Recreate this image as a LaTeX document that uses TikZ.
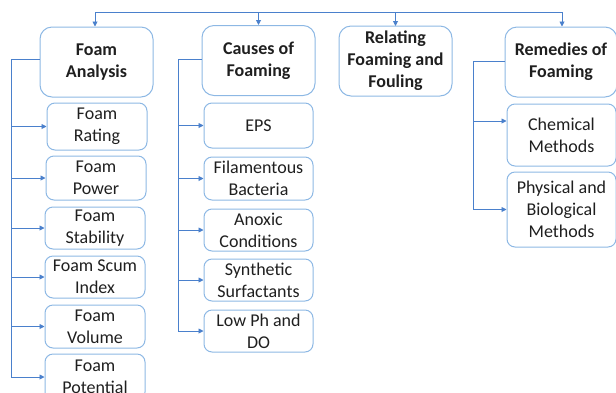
\documentclass[tikz,border=0pt]{standalone}
\usepackage{fontspec}
\setmainfont{Carlito}
\usetikzlibrary{positioning,arrows.meta}

\definecolor{linkblue}{HTML}{4A80CC}
\definecolor{boxblue}{HTML}{8DB8E4}

\tikzset{
  topbox/.style={draw=boxblue, line width=1pt, rounded corners=12pt, align=center,
    minimum width=113pt, minimum height=70pt, text=black!88,
    font=\fontsize{18}{22}\selectfont\bfseries},
  subbox/.style={draw=boxblue, line width=1pt, rounded corners=8pt, align=center,
    minimum width=100pt, inner sep=0pt, text=black!88,
    font=\fontsize{18}{22}\selectfont},
  link/.style={draw=linkblue, line width=0.9pt},
  linkarrow/.style={link, -{Triangle[length=5pt,width=5pt]}}
}

\begin{document}
\begin{tikzpicture}[x=1pt, y=-1pt]
    \useasboundingbox (0,0) rectangle (616,392);

    % Top level
    \node[topbox] (analysis) at (96.5,62) {Foam\\Analysis};
    \node[topbox] (causes) at (258.5,60.5) {Causes of\\Foaming};
    \node[topbox] (relating) at (395.5,61) {Relating\\Foaming and\\Fouling};
    \node[topbox, minimum width=112pt] (remedies) at (561,62) {Remedies of\\Foaming};

    % Bus from above
    \coordinate (bus-l) at (95,12);
    \coordinate (bus-r) at (562,12);
    \draw[link] (bus-l) -- (bus-r);
    \draw[linkarrow] (bus-l) -- (bus-l |- analysis.north);
    \draw[linkarrow] (causes.north |- bus-l) -- (causes.north);
    \draw[linkarrow] (relating.north |- bus-l) -- ++(0,14);
    \draw[linkarrow] (bus-r) -- (bus-r |- remedies.north);

    % Foam Analysis
    \node[subbox, minimum height=47pt] (rating) at (97,126.5) {Foam\\Rating};
    \node[subbox, minimum height=44pt] (power) at (96,178) {Foam\\Power};
    \node[subbox, minimum height=42pt] (stability) at (95,228) {Foam\\Stability};
    \node[subbox, minimum height=42pt] (scum) at (95,277) {Foam Scum\\Index};
    \node[subbox, minimum height=43pt] (volume) at (95,326.5) {Foam\\Volume};
    \node[subbox, minimum height=46pt] (potential) at (95,377) {Foam\\Potential};
    \coordinate (analysis-l) at (11,59);
    \draw[link] (analysis.west |- analysis-l) -- (analysis-l) -- (analysis-l |- potential.west);
    \foreach \n in {rating,power,stability,scum,volume,potential}
        \draw[linkarrow] (analysis-l |- \n.west) -- (\n.west);

    % Causes of Foaming
    \node[subbox, minimum width=109pt, minimum height=45pt] (eps) at (258.5,125.5) {EPS};
    \node[subbox, minimum width=109pt, minimum height=43pt] (bacteria) at (258.5,178.5) {Filamentous\\Bacteria};
    \node[subbox, minimum width=109pt, minimum height=42pt] (anoxic) at (258.5,230) {Anoxic\\Conditions};
    \node[subbox, minimum width=109pt, minimum height=42pt] (surfact) at (258.5,280) {Synthetic\\Surfactants};
    \node[subbox, minimum width=109pt, minimum height=42pt] (lowph) at (258.5,331) {Low Ph and\\DO};
    \coordinate (causes-l) at (178,59);
    \draw[link] (causes.west |- causes-l) -- (causes-l) -- (causes-l |- lowph.west);
    \foreach \n in {eps,bacteria,anoxic,surfact,lowph}
        \draw[linkarrow] (causes-l |- \n.west) -- (\n.west);

    % Remedies of Foaming
    \node[subbox, minimum width=109pt, minimum height=62pt] (chemical) at (561.5,135) {Chemical\\Methods};
    \node[subbox, minimum width=109pt, minimum height=75pt] (physical) at (561.5,209.5) {Physical and\\Biological\\Methods};
    \coordinate (remedies-l) at (473,61);
    \draw[link] (remedies.west |- remedies-l) -- (remedies-l) -- (remedies-l |- physical.west);
    \draw[linkarrow] (remedies-l |- 0,121) -- (chemical.west |- 0,121);
    \draw[linkarrow] (remedies-l |- physical.west) -- (physical.west);
\end{tikzpicture}
\end{document}
